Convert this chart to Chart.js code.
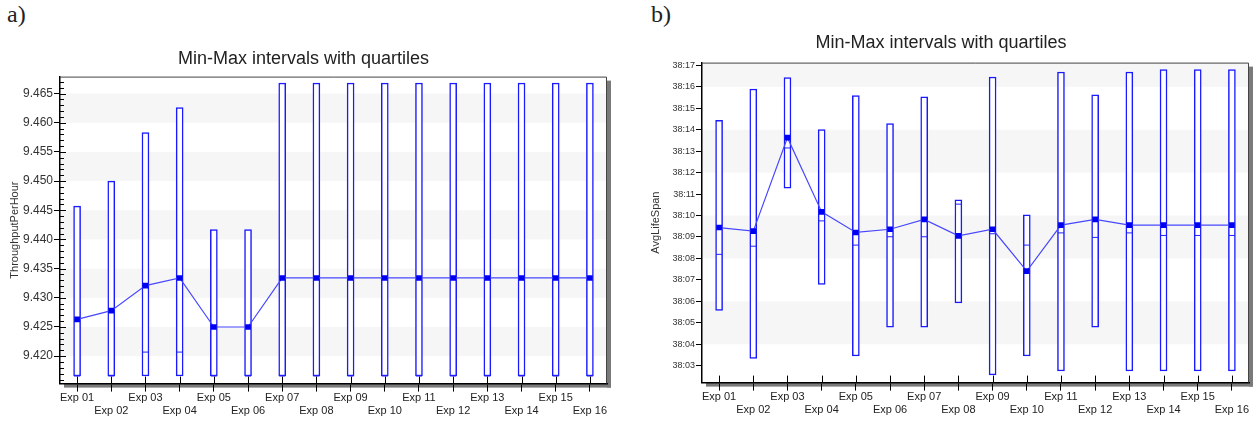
<!DOCTYPE html>
<html>
<head>
<meta charset="utf-8">
<script src="https://cdn.jsdelivr.net/npm/chart.js@4.4.0/dist/chart.umd.min.js"></script>
<style>
  body { margin: 0; background: #fff; }
  #wrap { position: relative; width: 1257px; height: 421px; overflow: hidden; }
  .tag { position: absolute; top: 1px; font-family: "Liberation Serif", serif; font-size: 24px; color: #222; }
  .box { position: absolute; top: 0; height: 421px; }
</style>
</head>
<body>
<div id="wrap">
  <div class="tag" style="left:7px">a)</div>
  <div class="tag" style="left:651px">b)</div>
  <div class="box" style="left:0;width:637px"><canvas id="chartA"></canvas></div>
  <div class="box" style="left:633px;width:624px"><canvas id="chartB"></canvas></div>
</div>
<script>
// Categories shared by both panels
const experiments = ["Exp 01", "Exp 02", "Exp 03", "Exp 04", "Exp 05", "Exp 06", "Exp 07", "Exp 08",
  "Exp 09", "Exp 10", "Exp 11", "Exp 12", "Exp 13", "Exp 14", "Exp 15", "Exp 16"];

// a) ThroughputPerHour
const tpMin = [9.4166, 9.4166, 9.4166, 9.4166, 9.4166, 9.4166, 9.4166, 9.4166,
  9.4166, 9.4166, 9.4166, 9.4166, 9.4166, 9.4166, 9.4166, 9.4166];
const tpMax = [9.4457, 9.4500, 9.4583, 9.4626, 9.4417, 9.4417, 9.4668, 9.4668,
  9.4668, 9.4668, 9.4668, 9.4668, 9.4668, 9.4668, 9.4668, 9.4668];
const tpQuartile = [9.4166, 9.4166, 9.4207, 9.4207, 9.4166, 9.4166, 9.4166, 9.4166,
  9.4166, 9.4166, 9.4166, 9.4166, 9.4166, 9.4166, 9.4166, 9.4166];
const tpMean = [9.4263, 9.4278, 9.4321, 9.4334, 9.4250, 9.4250, 9.4334, 9.4334,
  9.4334, 9.4334, 9.4334, 9.4334, 9.4334, 9.4334, 9.4334, 9.4334];

// b) AvgLifeSpan, values are the part after "38:"
const lifeMin = [5.58, 3.34, 11.27, 6.79, 3.45, 4.79, 4.79, 5.93,
  2.57, 3.45, 2.75, 4.79, 2.75, 2.75, 2.75, 2.75];
const lifeMax = [14.44, 15.90, 16.43, 14.01, 15.59, 14.29, 15.53, 10.73,
  16.46, 10.03, 16.69, 15.63, 16.69, 16.81, 16.81, 16.81];
const lifeQuartile = [8.19, 8.57, 13.15, 9.75, 8.62, 9.01, 9.01, 10.53,
  9.15, 8.62, 9.19, 8.98, 9.19, 9.07, 9.07, 9.07];
const lifeMean = [9.44, 9.27, 13.63, 10.17, 9.21, 9.36, 9.82, 9.05,
  9.36, 7.41, 9.55, 9.82, 9.55, 9.55, 9.55, 9.55];

const SANS = "'Liberation Sans', Arial, sans-serif";

// Background bands, drop shadow and the little inner tick marks
const framePlugin = {
  id: "frame",
  beforeDraw(chart, args, opts) {
    const ctx = chart.ctx;
    const a = chart.chartArea;
    const y = chart.scales.y;
    ctx.save();
    ctx.fillStyle = "#7a7a7a";
    ctx.fillRect(a.right, a.top + 4, 4, a.bottom - a.top);
    ctx.fillRect(a.left + 4, a.bottom, a.right - a.left, 4);
    ctx.fillStyle = "#fff";
    ctx.fillRect(a.left, a.top, a.right - a.left, a.bottom - a.top);

    ctx.fillStyle = "#f6f6f6";
    const step = opts.bandStep;
    const k0 = Math.floor((y.min - opts.bandStart) / (2 * step)) - 1;
    const k1 = Math.ceil((y.max - opts.bandStart) / (2 * step)) + 1;
    for (let k = k0; k <= k1; k++) {
      const lo = Math.max(opts.bandStart + 2 * k * step, y.min);
      const hi = Math.min(opts.bandStart + (2 * k + 1) * step, y.max);
      if (hi <= lo) continue;
      const top = y.getPixelForValue(hi);
      const bot = y.getPixelForValue(lo);
      ctx.fillRect(a.left, top, a.right - a.left, bot - top);
    }
    ctx.restore();
  },
  afterDraw(chart, args, opts) {
    const ctx = chart.ctx;
    const a = chart.chartArea;
    const x = chart.scales.x;
    const y = chart.scales.y;
    ctx.save();
    ctx.strokeStyle = "#444";
    ctx.lineWidth = 1;
    ctx.beginPath();
    ctx.moveTo(a.left, a.top + 0.5);
    ctx.lineTo(a.right - 0.5, a.top + 0.5);
    ctx.lineTo(a.right - 0.5, a.bottom);
    ctx.stroke();

    ctx.strokeStyle = "#000";
    ctx.beginPath();
    // x ticks poke up into the plot
    experiments.forEach((e, i) => {
      const px = Math.round(x.getPixelForValue(i)) + 0.5;
      ctx.moveTo(px, a.bottom - 7);
      ctx.lineTo(px, a.bottom);
    });
    // minor ticks on the inside of the y axis
    if (opts.minorStep) {
      const s = opts.minorStep;
      for (let k = Math.ceil(y.min / s - 1e-6); k * s <= y.max + 1e-9; k++) {
        const py = Math.round(y.getPixelForValue(k * s)) + 0.5;
        const len = (k % 5 === 0) ? 6 : 4;
        ctx.moveTo(a.left, py);
        ctx.lineTo(a.left + len, py);
      }
    }
    ctx.stroke();
    ctx.restore();
  }
};

function xTickLabel(value, index) {
  // alternate labels on two rows
  return index % 2 === 0 ? [experiments[index], ""] : ["", experiments[index]];
}

function makeChart(id, p) {
  return new Chart(document.getElementById(id), {
    type: "bar",
    data: {
      labels: experiments,
      datasets: [
        {
          type: "line",
          data: p.mean,
          order: 0,
          borderColor: "#4747ff",
          borderWidth: 1.2,
          tension: 0,
          pointStyle: "rect",
          pointRadius: 4,
          pointBackgroundColor: "#0000f0",
          pointBorderColor: "#0000f0",
          pointBorderWidth: 0
        },
        {
          type: "line",
          data: p.quartile,
          order: 1,
          showLine: false,
          pointStyle: "line",
          pointRadius: 3,
          pointBorderColor: "#2020ff",
          pointBorderWidth: 1
        },
        {
          type: "bar",
          data: p.min.map((v, i) => [v, p.max[i]]),
          order: 2,
          backgroundColor: "#ffffff",
          borderColor: "#1a1aff",
          borderWidth: 1.5,
          borderSkipped: false,
          barThickness: 7
        }
      ]
    },
    options: {
      responsive: true,
      maintainAspectRatio: false,
      animation: false,
      devicePixelRatio: 1,
      layout: { padding: p.padding },
      plugins: {
        legend: { display: false },
        tooltip: { enabled: false },
        title: {
          display: true,
          text: "Min-Max intervals with quartiles",
          color: "#222",
          font: { family: SANS, size: 18, weight: "normal", lineHeight: 1.2 },
          padding: p.titlePad
        },
        frame: p.frame
      },
      scales: {
        x: {
          offset: true,
          grid: { drawOnChartArea: false, offset: false, tickLength: 8, tickColor: "#000" },
          border: { color: "#000", width: 1.5 },
          ticks: {
            autoSkip: false, maxRotation: 0, minRotation: 0, padding: 0,
            color: "#222",
            font: { family: SANS, size: 11, lineHeight: 1.2 },
            callback: xTickLabel
          }
        },
        y: {
          min: p.yMin,
          max: p.yMax,
          afterFit: s => { s.width = p.axisWidth; },
          grid: { drawOnChartArea: false, tickLength: p.tickLen, tickColor: "#000" },
          border: { color: "#000", width: 1.5 },
          title: {
            display: true,
            text: p.yTitle,
            color: "#333",
            font: { family: SANS, size: 11, lineHeight: 1.2 },
            padding: { top: p.yTitleOffset, bottom: 0 }
          },
          ticks: {
            stepSize: p.yStep,
            includeBounds: false,
            padding: 1,
            color: "#333",
            font: { family: SANS, size: p.yFont },
            callback: p.yFormat
          }
        }
      }
    },
    plugins: [framePlugin]
  });
}

makeChart("chartA", {
  mean: tpMean, quartile: tpQuartile, min: tpMin, max: tpMax,
  padding: { left: 0, right: 30, top: 0, bottom: 3 },
  titlePad: { top: 48, bottom: 7 },
  frame: { bandStart: 9.420, bandStep: 0.005, minorStep: 0.001 },
  yMin: 9.4153, yMax: 9.4679, yStep: 0.005, yFont: 12, tickLen: 6,
  axisWidth: 60, yTitle: "ThroughputPerHour", yTitleOffset: 8,
  yFormat: v => v.toFixed(3)
});

makeChart("chartB", {
  mean: lifeMean, quartile: lifeQuartile, min: lifeMin, max: lifeMax,
  padding: { left: 0, right: 8, top: 0, bottom: 4 },
  titlePad: { top: 32, bottom: 9 },
  frame: { bandStart: 4, bandStep: 2, minorStep: null },
  yMin: 2.21, yMax: 17.13, yStep: 1, yFont: 9, tickLen: 6,
  axisWidth: 69, yTitle: "AvgLifeSpan", yTitleOffset: 16,
  yFormat: v => "38:" + String(Math.round(v)).padStart(2, "0")
});
</script>
</body>
</html>
